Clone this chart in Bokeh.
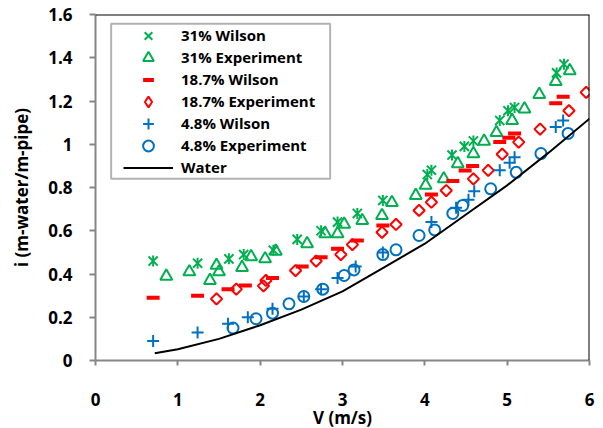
import numpy as np
from bokeh.plotting import figure
from bokeh.models import Legend, LegendItem, Span, BoxAnnotation, FixedTicker, Range1d
from bokeh.embed import file_html
from bokeh.resources import INLINE

# ---------------- data ----------------
wil31_x = [0.70, 1.24, 1.62, 1.80, 2.16, 2.45, 2.74, 2.94, 3.18, 3.49, 4.03, 4.08, 4.33, 4.48, 4.59, 4.91, 5.01, 5.09, 5.60, 5.69]
wil31_y = [0.46, 0.45, 0.47, 0.49, 0.51, 0.56, 0.60, 0.64, 0.68, 0.74, 0.86, 0.88, 0.95, 0.99, 1.015, 1.11, 1.155, 1.17, 1.33, 1.37]

exp31_x = [0.86, 1.14, 1.39, 1.47, 1.50, 1.78, 1.89, 2.06, 2.19, 2.57, 2.79, 2.94, 3.02, 3.24, 3.48, 3.60, 3.89, 4.01, 4.23, 4.40, 4.59, 4.72, 4.87, 5.06, 5.21, 5.39, 5.59, 5.76]
exp31_y = [0.39, 0.41, 0.37, 0.44, 0.41, 0.43, 0.48, 0.47, 0.505, 0.54, 0.586, 0.586, 0.63, 0.647, 0.67, 0.73, 0.763, 0.81, 0.84, 0.91, 0.956, 1.014, 1.054, 1.11, 1.163, 1.23, 1.29, 1.34]

wil187_x = [0.70, 1.24, 1.61, 1.82, 2.15, 2.51, 2.74, 2.94, 3.18, 3.49, 4.08, 4.34, 4.49, 4.58, 4.91, 5.02, 5.09, 5.59, 5.68]
wil187_y = [0.29, 0.30, 0.33, 0.347, 0.382, 0.435, 0.478, 0.517, 0.555, 0.624, 0.768, 0.83, 0.879, 0.90, 1.01, 1.03, 1.05, 1.19, 1.22]

exp187_x = [1.47, 1.71, 2.04, 2.07, 2.43, 2.68, 2.98, 3.12, 3.48, 3.65, 3.93, 4.08, 4.26, 4.59, 4.77, 4.94, 5.14, 5.40, 5.75, 5.96]
exp187_y = [0.285, 0.33, 0.345, 0.37, 0.416, 0.46, 0.49, 0.536, 0.593, 0.629, 0.694, 0.732, 0.786, 0.84, 0.879, 0.954, 1.01, 1.07, 1.155, 1.24]

wil48_x = [0.70, 1.24, 1.61, 1.85, 2.15, 2.53, 2.74, 2.94, 3.16, 3.49, 4.08, 4.38, 4.53, 4.60, 4.91, 5.03, 5.09, 5.59, 5.68]
wil48_y = [0.09, 0.13, 0.17, 0.20, 0.239, 0.296, 0.33, 0.382, 0.435, 0.50, 0.64, 0.706, 0.743, 0.783, 0.88, 0.915, 0.94, 1.08, 1.11]

exp48_x = [1.67, 1.95, 2.15, 2.35, 2.53, 2.76, 3.02, 3.14, 3.49, 3.65, 3.93, 4.12, 4.34, 4.46, 4.80, 5.11, 5.41, 5.74]
exp48_y = [0.15, 0.193, 0.219, 0.262, 0.296, 0.33, 0.393, 0.419, 0.49, 0.512, 0.578, 0.604, 0.68, 0.717, 0.794, 0.87, 0.957, 1.05]

water_x = [0.72, 1.0, 1.5, 2.0, 2.5, 3.0, 3.5, 4.0, 4.5, 5.0, 5.5, 6.0]
water_y = [0.034, 0.052, 0.10, 0.163, 0.235, 0.32, 0.43, 0.54, 0.675, 0.81, 0.96, 1.118]

x_ticks = [0, 1, 2, 3, 4, 5, 6]
x_tick_labels = ["0", "1", "2", "3", "4", "5", "6"]
y_ticks = [0, 0.2, 0.4, 0.6, 0.8, 1.0, 1.2, 1.4, 1.6]
y_tick_labels = ["0", "0.2", "0.4", "0.6", "0.8", "1", "1.2", "1.4", "1.6"]

series_labels = ["31% Wilson", "31% Experiment", "18.7% Wilson", "18.7% Experiment",
                 "4.8% Wilson", "4.8% Experiment", "Water"]
x_title = "V (m/s)"
y_title = "i (m-water/m-pipe)"

GREEN = "#00B050"
RED = "#FF0000"
BLUE = "#0070C0"
FONT = "Open Sans"

# ---------------- figure ----------------
p = figure(frame_width=494, frame_height=346, output_backend="svg", toolbar_location=None,
           x_range=Range1d(0, 6), y_range=Range1d(0, 1.6),
           min_border_left=95, min_border_right=14, min_border_top=14, min_border_bottom=68)
p.background_fill_color = "white"
p.border_fill_color = "white"
p.outline_line_color = None
p.xgrid.visible = False
p.ygrid.visible = False

AX = "#868686"
for ax in (p.xaxis[0], p.yaxis[0]):
    ax.axis_line_color = AX
    ax.axis_line_width = 2
    ax.major_tick_line_color = AX
    ax.major_tick_line_width = 2
    ax.major_tick_in = 0
    ax.minor_tick_line_color = None
    ax.major_label_text_font = FONT
    ax.major_label_text_font_style = "bold"
    ax.major_label_text_font_size = "17px"
    ax.major_label_text_color = "black"
    ax.axis_label_text_font = FONT
    ax.axis_label_text_font_style = "bold"
    ax.axis_label_text_font_size = "17px"
    ax.axis_label_text_color = "black"

p.xaxis.ticker = FixedTicker(ticks=x_ticks)
p.xaxis.major_label_overrides = dict(zip(x_ticks, x_tick_labels))
p.xaxis.major_tick_out = 5
p.xaxis.major_label_standoff = 27
p.xaxis.axis_label = x_title
p.xaxis.axis_label_standoff = -3

p.yaxis.ticker = FixedTicker(ticks=y_ticks)
p.yaxis.major_label_overrides = dict(zip(y_ticks, y_tick_labels))
p.yaxis.major_tick_out = 6
p.yaxis.major_label_standoff = 17
p.yaxis.axis_label = y_title
p.yaxis.axis_label_standoff = 12

# top and right frame lines
p.add_layout(Span(location=1.6, dimension="width", line_color="black", line_width=2))
p.add_layout(Span(location=6, dimension="height", line_color="black", line_width=2))

# ---------------- series ----------------
r_wil31a = p.scatter(wil31_x, wil31_y, marker="x", size=13, line_color=GREEN, line_width=2)
r_wil31b = p.scatter(wil31_x, wil31_y, marker="dash", angle=np.pi / 2, size=11, line_color=GREEN, line_width=2)
r_exp31 = p.scatter(exp31_x, exp31_y, marker="triangle", size=12, line_color=GREEN, line_width=2, fill_alpha=0)
r_wil187 = p.scatter(wil187_x, wil187_y, marker="dash", size=13, line_color=RED, line_width=4)
r_exp187 = p.scatter(exp187_x, exp187_y, marker="square", angle=np.pi / 4, size=8, line_color=RED, line_width=2, fill_alpha=0)
r_exp187_leg = p.scatter(exp187_x, exp187_y, marker="diamond", size=12, line_color=RED, line_width=2, fill_alpha=0, visible=False)
r_wil48 = p.scatter(wil48_x, wil48_y, marker="cross", size=12, line_color=BLUE, line_width=2)
r_exp48 = p.scatter(exp48_x, exp48_y, marker="circle", size=11, line_color=BLUE, line_width=2, fill_alpha=0)
r_water = p.line(water_x, water_y, line_color="black", line_width=2)

# ---------------- legend ----------------
p.add_layout(BoxAnnotation(left=0.19, right=2.85, top=1.557, bottom=0.84,
                           fill_color="white", fill_alpha=1, line_color="black", line_width=2))

legend_renderers = [[r_wil31a], [r_exp31], [r_wil187], [r_exp187_leg], [r_wil48], [r_exp48], [r_water]]
ROW0, PITCH, GH = 35, 22, 27
for i, (lab, rends) in enumerate(zip(series_labels, legend_renderers)):
    yc = ROW0 + PITCH * i
    lg = Legend(items=[LegendItem(label=lab, renderers=rends)],
                location=(28, 360 - (yc + GH / 2)), padding=0, margin=0, spacing=0,
                glyph_width=50, glyph_height=GH, label_height=GH, label_standoff=8,
                border_line_color=None, background_fill_alpha=0,
                label_text_font=FONT, label_text_font_style="bold", label_text_font_size="15px",
                label_text_color="black")
    p.add_layout(lg)

open("out.html", "w").write(file_html(p, INLINE))
